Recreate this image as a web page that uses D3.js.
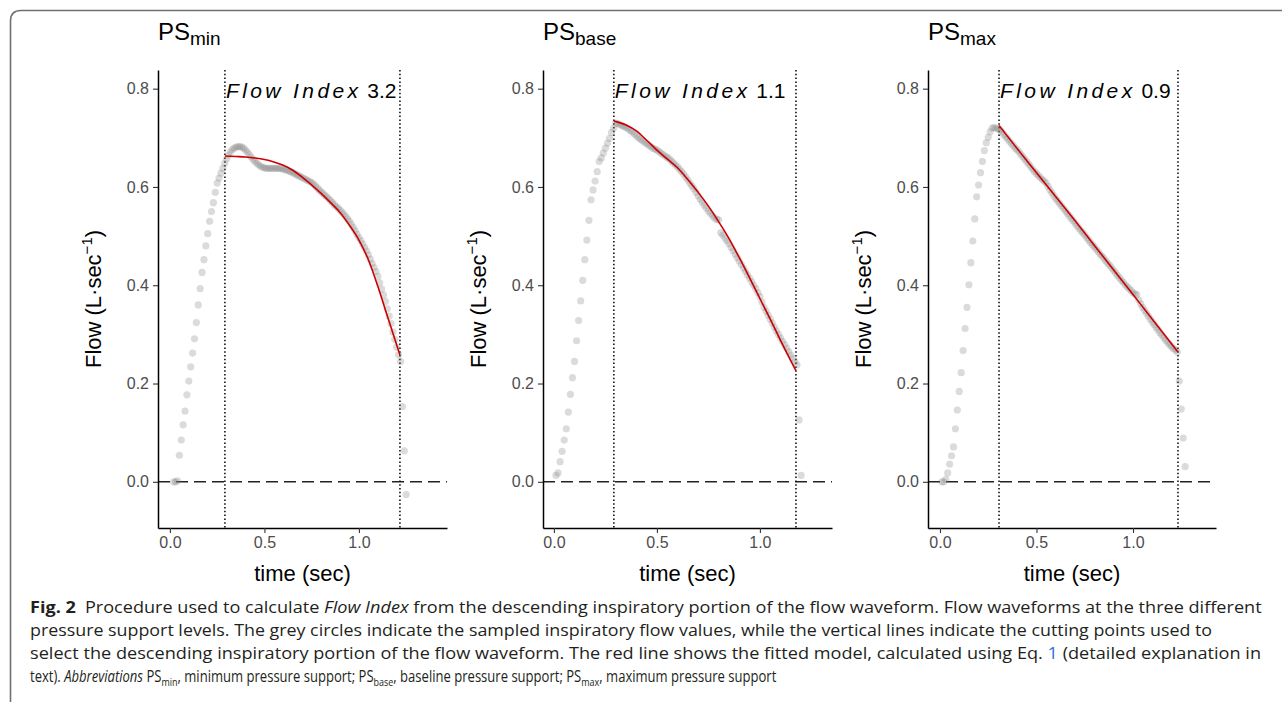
<!DOCTYPE html>
<html>
<head>
<meta charset="utf-8">
<script src="https://cdn.jsdelivr.net/npm/d3@7/dist/d3.min.js"></script>
<style>
  body { margin: 0; background: #fff; }
  svg { display: block; }
</style>
</head>
<body>
<div id="chart"></div>
<script>
// --- data ---
const panelSubs = ["min", "base", "max"];
const flowIndexText = ["3.2", "1.1", "0.9"];
const cutStart = [0.291, 0.291, 0.306];
const cutEnd = [1.217, 1.175, 1.233];

// ventilator samples every 10 ms
const sampleStep = 0.01;
const sampleStart = [0.02, 0.01, 0.01];

const flowPsMin = [
  0, 0, 0.002, 0.054, 0.085, 0.116, 0.144, 0.177, 0.205, 0.234, 0.262, 0.291, 0.324, 0.36, 0.393,
  0.426, 0.452, 0.48, 0.505, 0.53, 0.55, 0.568, 0.589, 0.608, 0.618, 0.628, 0.638, 0.648, 0.657,
  0.665, 0.671, 0.676, 0.679, 0.681, 0.682, 0.682, 0.681, 0.679, 0.675, 0.671, 0.666, 0.661, 0.656,
  0.652, 0.648, 0.645, 0.642, 0.64, 0.639, 0.638, 0.638, 0.638, 0.638, 0.638, 0.638, 0.638, 0.638,
  0.637, 0.636, 0.635, 0.634, 0.632, 0.631, 0.629, 0.627, 0.625, 0.623, 0.621, 0.619, 0.617, 0.615,
  0.613, 0.611, 0.609, 0.606, 0.602, 0.598, 0.594, 0.59, 0.587, 0.583, 0.58, 0.576, 0.572, 0.568,
  0.564, 0.56, 0.557, 0.553, 0.549, 0.545, 0.54, 0.535, 0.53, 0.524, 0.518, 0.511, 0.504, 0.497,
  0.491, 0.484, 0.477, 0.47, 0.462, 0.453, 0.444, 0.436, 0.428, 0.418, 0.405, 0.392, 0.38, 0.367,
  0.352, 0.337, 0.322, 0.305, 0.29, 0.274, 0.259, 0.245, 0.153, 0.063, -0.026
];
const flowPsBase = [
  0.013, 0.018, 0.041, 0.062, 0.085, 0.108, 0.142, 0.178, 0.212, 0.245, 0.287, 0.328, 0.368, 0.41,
  0.452, 0.492, 0.532, 0.574, 0.594, 0.612, 0.631, 0.652, 0.659, 0.669, 0.679, 0.689, 0.699, 0.711,
  0.72, 0.73, 0.729, 0.727, 0.725, 0.723, 0.721, 0.718, 0.715, 0.712, 0.708, 0.704, 0.7, 0.697,
  0.694, 0.691, 0.688, 0.685, 0.682, 0.679, 0.677, 0.675, 0.672, 0.669, 0.666, 0.663, 0.66, 0.657,
  0.653, 0.649, 0.645, 0.641, 0.636, 0.631, 0.626, 0.62, 0.614, 0.608, 0.602, 0.596, 0.589, 0.582,
  0.575, 0.569, 0.563, 0.557, 0.551, 0.546, 0.541, 0.537, 0.534, 0.533, 0.507, 0.502, 0.496, 0.49,
  0.484, 0.477, 0.47, 0.463, 0.456, 0.449, 0.442, 0.435, 0.428, 0.421, 0.414, 0.407, 0.4, 0.393,
  0.385, 0.377, 0.366, 0.355, 0.347, 0.339, 0.331, 0.323, 0.315, 0.307, 0.3, 0.293, 0.286, 0.279,
  0.272, 0.265, 0.258, 0.251, 0.244, 0.238, 0.126, 0.013
];
const flowPsMax = [
  0, 0, 0.005, 0.018, 0.036, 0.053, 0.071, 0.108, 0.146, 0.184, 0.222, 0.267, 0.312, 0.355, 0.401,
  0.446, 0.49, 0.535, 0.58, 0.604, 0.629, 0.652, 0.674, 0.69, 0.701, 0.712, 0.72, 0.721, 0.72, 0.718,
  0.716, 0.712, 0.707, 0.702, 0.698, 0.693, 0.688, 0.684, 0.679, 0.675, 0.671, 0.666, 0.661, 0.656,
  0.651, 0.646, 0.641, 0.636, 0.631, 0.627, 0.623, 0.619, 0.615, 0.612, 0.608, 0.601, 0.594, 0.588,
  0.582, 0.576, 0.571, 0.566, 0.561, 0.556, 0.551, 0.546, 0.541, 0.536, 0.531, 0.526, 0.521, 0.516,
  0.511, 0.507, 0.502, 0.497, 0.492, 0.487, 0.482, 0.478, 0.473, 0.468, 0.463, 0.459, 0.454, 0.449,
  0.444, 0.44, 0.435, 0.43, 0.425, 0.42, 0.415, 0.41, 0.406, 0.401, 0.397, 0.393, 0.389, 0.385,
  0.382, 0.381, 0.37, 0.362, 0.355, 0.349, 0.343, 0.337, 0.331, 0.325, 0.32, 0.314, 0.309, 0.303,
  0.298, 0.293, 0.288, 0.283, 0.279, 0.275, 0.271, 0.268, 0.264, 0.205, 0.148, 0.089, 0.031
];

// fitted model (red line)
const fitTimeMin = [0.291, 0.35, 0.40, 0.45, 0.50, 0.55, 0.60, 0.65, 0.70, 0.75, 0.80, 0.85, 0.90, 0.95, 1.00, 1.05, 1.10, 1.15, 1.217];
const fitFlowMin = [0.663, 0.662, 0.661, 0.659, 0.656, 0.651, 0.644, 0.634, 0.62, 0.604, 0.587, 0.568, 0.548, 0.522, 0.492, 0.452, 0.398, 0.338, 0.258];
const fitTimeBase = [0.291, 0.35, 0.40, 0.45, 0.50, 0.55, 0.60, 0.65, 0.70, 0.75, 0.80, 0.85, 0.90, 0.95, 1.00, 1.05, 1.10, 1.175];
const fitFlowBase = [0.734, 0.726, 0.714, 0.695, 0.675, 0.657, 0.639, 0.615, 0.589, 0.561, 0.529, 0.495, 0.456, 0.415, 0.373, 0.331, 0.288, 0.226];
const fitTimeMax = [0.306, 0.40, 0.50, 0.60, 0.70, 0.80, 0.90, 1.00, 1.10, 1.233];
const fitFlowMax = [0.725, 0.678, 0.629, 0.58, 0.531, 0.481, 0.431, 0.381, 0.331, 0.264];

const xTicks = [0, 0.5, 1.0];
const yTicks = [0, 0.2, 0.4, 0.6, 0.8];

const flows = [flowPsMin, flowPsBase, flowPsMax];
const fitTimes = [fitTimeMin, fitTimeBase, fitTimeMax];
const fitFlows = [fitFlowMin, fitFlowBase, fitFlowMax];

// scale limits (ggplot expanded ranges)
const xLimits = [[-0.063, 1.466], [-0.053, 1.35], [-0.062, 1.43]];
const yLimits = [-0.094, 0.838];

// --- layout ---
const W = 1282, H = 702;
const panelLeft = [158, 543, 928];
const panelWidth = [289, 289, 288];
const plotTop = 70, plotBottom = 528;
const font = "'Liberation Sans', Arial, sans-serif";

const svg = d3.select("#chart").append("svg")
  .attr("width", W).attr("height", H)
  .style("background", "#fff");

// figure frame with rounded top-left corner
svg.append("path")
  .attr("d", "M10.5,702 L10.5,21 Q10.5,10.5 21,10.5 L1282,10.5")
  .attr("fill", "none")
  .attr("stroke", "#707070")
  .attr("stroke-width", 1.6);

const y = d3.scaleLinear().domain(yLimits).range([plotBottom, plotTop]);

panelSubs.forEach(function(sub, p) {
  const left = panelLeft[p], right = left + panelWidth[p];
  const x = d3.scaleLinear().domain(xLimits[p]).range([left, right]);
  const g = svg.append("g");

  const pts = flows[p].map(function(v, i) {
    return { t: sampleStart[p] + i * sampleStep, v: v };
  });

  // zero reference
  g.append("line")
    .attr("x1", left).attr("x2", right)
    .attr("y1", y(0)).attr("y2", y(0))
    .attr("stroke", "#222")
    .attr("stroke-width", 1.6)
    .attr("stroke-dasharray", "12,6");

  // cutting points
  g.selectAll("line.cut")
    .data([cutStart[p], cutEnd[p]])
    .enter().append("line")
      .attr("class", "cut")
      .attr("x1", d => x(d)).attr("x2", d => x(d))
      .attr("y1", plotTop).attr("y2", plotBottom)
      .attr("stroke", "#111")
      .attr("stroke-width", 1.6)
      .attr("stroke-dasharray", "1.5,2.3");

  // samples
  g.selectAll("circle")
    .data(pts)
    .enter().append("circle")
      .attr("cx", d => x(d.t))
      .attr("cy", d => y(d.v))
      .attr("r", 3.6)
      .attr("fill", "#7f7f7f")
      .attr("fill-opacity", 0.28);

  // fitted model
  const fit = fitTimes[p].map((t, i) => ({ t: t, v: fitFlows[p][i] }));
  g.append("path")
    .datum(fit)
    .attr("d", d3.line().x(d => x(d.t)).y(d => y(d.v)).curve(d3.curveMonotoneX))
    .attr("fill", "none")
    .attr("stroke", "#cc0000")
    .attr("stroke-width", 1.6);

  // axes
  const ax = g.append("g")
    .attr("transform", "translate(0," + plotBottom + ")")
    .call(d3.axisBottom(x).tickValues(xTicks).tickFormat(d3.format(".1f")).tickSizeInner(5).tickSizeOuter(0).tickPadding(4));
  const ay = g.append("g")
    .attr("transform", "translate(" + left + ",0)")
    .call(d3.axisLeft(y).tickValues(yTicks).tickFormat(d3.format(".1f")).tickSizeInner(5).tickSizeOuter(0).tickPadding(4));
  [ax, ay].forEach(function(a) {
    a.select(".domain").attr("stroke", "#000").attr("stroke-width", 1.5);
    a.selectAll(".tick line").attr("stroke", "#333").attr("stroke-width", 1.1);
    a.selectAll(".tick text")
      .attr("fill", "#4d4d4d")
      .style("font-family", font)
      .style("font-size", "16px");
  });

  // axis titles
  g.append("text")
    .attr("x", (left + right) / 2).attr("y", 581)
    .attr("text-anchor", "middle")
    .style("font-family", font).style("font-size", "22px")
    .text("time (sec)");

  const yt = g.append("text")
    .attr("transform", "translate(" + (left - 57) + "," + ((plotTop + plotBottom) / 2) + ") rotate(-90)")
    .attr("text-anchor", "middle")
    .style("font-family", font).style("font-size", "22px");
  yt.append("tspan").text("Flow (L\u00b7sec");
  yt.append("tspan").attr("dy", -9).style("font-size", "15px").text("\u22121");
  yt.append("tspan").attr("dy", 9).text(")");

  // panel title
  const tt = g.append("text")
    .attr("x", left).attr("y", 40)
    .style("font-family", font).style("font-size", "24px");
  tt.append("tspan").text("PS");
  tt.append("tspan").attr("dy", 5).style("font-size", "19px").text(sub);

  // Flow Index label
  const fl = g.append("text")
    .attr("x", x(cutStart[p]) + 1).attr("y", 98)
    .style("font-family", font).style("font-size", "21px");
  fl.append("tspan").style("font-style", "italic").style("letter-spacing", "3.4px").text("Flow Index");
  fl.append("tspan").text(" " + flowIndexText[p]);
});

// --- caption ---
const captionLines = [
  [["Fig. 2", "b"], ["\u2002Procedure used to calculate ", ""], ["Flow Index", "i"], [" from the descending inspiratory portion of the flow waveform. Flow waveforms at the three different", ""]],
  [["pressure support levels. The grey circles indicate the sampled inspiratory flow values, while the vertical lines indicate the cutting points used to", ""]],
  [["select the descending inspiratory portion of the flow waveform. The red line shows the fitted model, calculated using Eq. ", ""], ["1", "link"], [" (detailed explanation in", ""]],
  [["text). ", ""], ["Abbreviations", "i"], [" PS", ""], ["min", "sub"], [", minimum pressure support; PS", ""], ["base", "sub"], [", baseline pressure support; PS", ""], ["max", "sub"], [", maximum pressure support", ""]]
];
const captionY = [613, 636, 659, 682];
// right end of each caption line as it sits in the figure
const captionEnd = [1262, 1213, 1262, 777];

captionLines.forEach(function(parts, li) {
  const t = svg.append("text")
    .attr("transform", "translate(30," + captionY[li] + ")")
    .style("font-family", "'Open Sans', 'Noto Sans', sans-serif")
    .style("font-size", "16px")
    .attr("fill", "#231f20");
  let shifted = false;
  parts.forEach(function(pt) {
    const s = t.append("tspan").text(pt[0]);
    if (shifted && pt[1] !== "sub") { s.attr("dy", -4); shifted = false; }
    if (pt[1] === "b") s.style("font-weight", "bold");
    if (pt[1] === "i") s.style("font-style", "italic");
    if (pt[1] === "link") s.attr("fill", "#2f6fd8");
    if (pt[1] === "sub") { s.attr("dy", 4).style("font-size", "11px"); shifted = true; }
  });
  const k = (captionEnd[li] - 30) / t.node().getComputedTextLength();
  t.attr("transform", "translate(30," + captionY[li] + ") scale(" + k + ",1)");
});
</script>
</body>
</html>
